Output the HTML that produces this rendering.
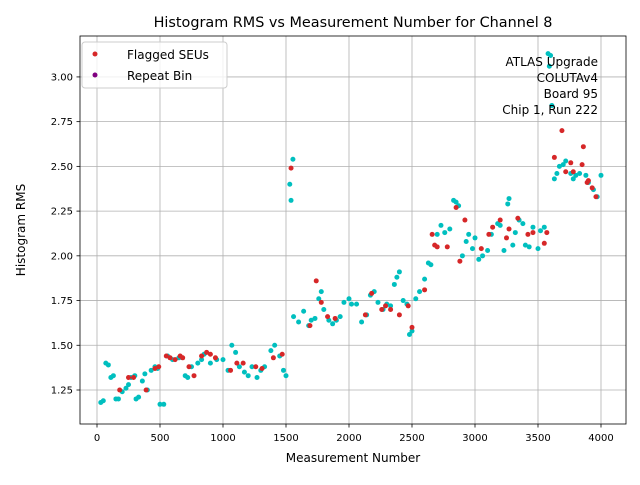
<!DOCTYPE html>
<html><head><meta charset="utf-8"><style>
body{margin:0;background:#fff;font-family:"Liberation Sans","DejaVu Sans",sans-serif}
svg text{font-family:"DejaVu Sans","Liberation Sans",sans-serif}
</style></head><body>
<svg id="chart" width="640" height="480" xmlns="http://www.w3.org/2000/svg">
<rect width="640" height="480" fill="#fff"/>
<text x="353" y="27" font-size="14.4" text-anchor="middle">Histogram RMS vs Measurement Number for Channel 8</text>
<g id="grid"></g><g id="pts"></g>
<rect x="80" y="36" width="546" height="388" fill="none" stroke="#000" stroke-width="0.8"/>
<g id="ticks"></g>
<text x="353" y="462" font-size="12" text-anchor="middle">Measurement Number</text>
<text transform="translate(25,230) rotate(-90)" font-size="12" text-anchor="middle">Histogram RMS</text>
<g>
<rect x="82" y="42" width="145" height="46" rx="3" fill="#fff" fill-opacity="0.8" stroke="#ccc"/>
<g><circle cx="95" cy="54" r="2.5" fill="#d62728"/><text x="127" y="59" font-size="12">Flagged SEUs</text></g>
<g><circle cx="95" cy="75" r="2.5" fill="#800080"/><text x="127" y="80" font-size="12">Repeat Bin</text></g>
</g>
<g font-size="12" text-anchor="end">
<text x="598" y="66">ATLAS Upgrade</text><text x="598" y="82">COLUTAv4</text><text x="598" y="98">Board 95</text><text x="598" y="114">Chip 1, Run 222</text>
</g>
</svg>
<script>
const xTicks=[0,500,1000,1500,2000,2500,3000,3500,4000];
const yTicks=[1.25,1.50,1.75,2.00,2.25,2.50,2.75,3.00];
const cyanX=[30,50,70,90,110,130,150,170,200,230,250,270,300,310,330,360,380,400,430,460,480,500,530,560,600,650,700,720,750,800,830,850,900,950,1000,1040,1070,1100,1130,1170,1200,1230,1270,1300,1330,1380,1410,1450,1480,1500,1530,1540,1555,1560,1600,1640,1680,1700,1730,1760,1780,1800,1840,1870,1900,1930,1960,2000,2020,2060,2100,2140,2170,2200,2230,2270,2300,2330,2360,2380,2400,2430,2460,2480,2500,2530,2560,2600,2630,2650,2700,2730,2760,2800,2830,2850,2870,2900,2930,2950,2980,3000,3030,3060,3100,3130,3180,3200,3230,3260,3270,3300,3320,3350,3380,3400,3430,3460,3500,3520,3550,3580,3600,3590,3610,3630,3650,3670,3700,3720,3760,3780,3800,3830,3880,3900,3940,3970,4000];
const cyanY=[1.18,1.19,1.40,1.39,1.32,1.33,1.20,1.20,1.24,1.26,1.28,1.32,1.33,1.20,1.21,1.30,1.34,1.25,1.36,1.38,1.37,1.17,1.17,1.44,1.42,1.43,1.33,1.32,1.38,1.40,1.42,1.45,1.40,1.42,1.42,1.36,1.50,1.46,1.38,1.35,1.33,1.38,1.32,1.36,1.38,1.47,1.50,1.44,1.36,1.33,2.40,2.31,2.54,1.66,1.63,1.69,1.61,1.64,1.65,1.76,1.80,1.70,1.64,1.62,1.64,1.66,1.74,1.76,1.73,1.73,1.63,1.67,1.78,1.80,1.74,1.70,1.73,1.72,1.84,1.88,1.91,1.75,1.73,1.56,1.58,1.76,1.80,1.87,1.96,1.95,2.12,2.17,2.13,2.15,2.31,2.30,2.28,2.00,2.08,2.12,2.04,2.10,1.98,2.00,2.03,2.12,2.18,2.17,2.03,2.29,2.32,2.06,2.13,2.20,2.18,2.06,2.05,2.16,2.04,2.14,2.16,3.13,3.12,3.06,2.84,2.43,2.46,2.50,2.51,2.53,2.46,2.43,2.45,2.46,2.45,2.41,2.37,2.33,2.45];
const redX=[180,250,290,390,460,490,550,580,620,660,680,730,770,830,870,900,940,1060,1110,1160,1260,1310,1400,1470,1540,1690,1740,1780,1830,1890,2130,2180,2260,2290,2330,2400,2470,2500,2600,2660,2680,2700,2780,2850,2880,2920,3050,3110,3140,3200,3250,3270,3340,3420,3460,3550,3570,3630,3690,3720,3760,3780,3850,3860,3890,3930,3960,3900];
const redY=[1.25,1.32,1.32,1.25,1.37,1.38,1.44,1.43,1.42,1.44,1.43,1.38,1.33,1.44,1.46,1.45,1.43,1.36,1.40,1.40,1.38,1.37,1.43,1.45,2.49,1.61,1.86,1.74,1.66,1.65,1.67,1.79,1.70,1.72,1.70,1.67,1.72,1.60,1.81,2.12,2.06,2.05,2.05,2.27,1.97,2.20,2.04,2.12,2.16,2.20,2.10,2.15,2.21,2.12,2.13,2.07,2.13,2.55,2.70,2.47,2.52,2.47,2.51,2.61,2.41,2.38,2.33,2.42];
const NS='http://www.w3.org/2000/svg';
const sx=v=>97+v*0.126, sy=v=>390-(v-1.25)*178.9;
const grid=document.getElementById('grid'),ticks=document.getElementById('ticks'),pts=document.getElementById('pts');
function mk(tag,at,parent){const e=document.createElementNS(NS,tag);for(const k in at)e.setAttribute(k,at[k]);parent.appendChild(e);return e;}
xTicks.forEach(t=>{const x=sx(t);
 const g=mk('line',{x1:x,x2:x,y1:36,y2:424,stroke:'#b0b0b0','stroke-width':0.8},grid);
 
 
 mk('line',{x1:x,x2:x,y1:424,y2:427.5,stroke:'#000','stroke-width':0.8},ticks);
 const l=mk('text',{x:x,y:441,'font-size':10,'text-anchor':'middle'},ticks);l.textContent=t;
 
 });
yTicks.forEach(t=>{const y=sy(t);
 const g=mk('line',{x1:80,x2:626,y1:y,y2:y,stroke:'#b0b0b0','stroke-width':0.8},grid);
 
 
 mk('line',{x1:76.5,x2:80,y1:y,y2:y,stroke:'#000','stroke-width':0.8},ticks);
 const l=mk('text',{x:73,y:y+3.5,'font-size':10,'text-anchor':'end'},ticks);l.textContent=t.toFixed(2);
 
 });
cyanX.forEach((v,i)=>{const c=mk('circle',{cx:sx(v),cy:sy(cyanY[i]),r:2.5,fill:'#00bfbf'},pts);
 
 });
redX.forEach((v,i)=>{const c=mk('circle',{cx:sx(v),cy:sy(redY[i]),r:2.5,fill:'#d62728'},pts);
 
 });
</script>
</body></html>
